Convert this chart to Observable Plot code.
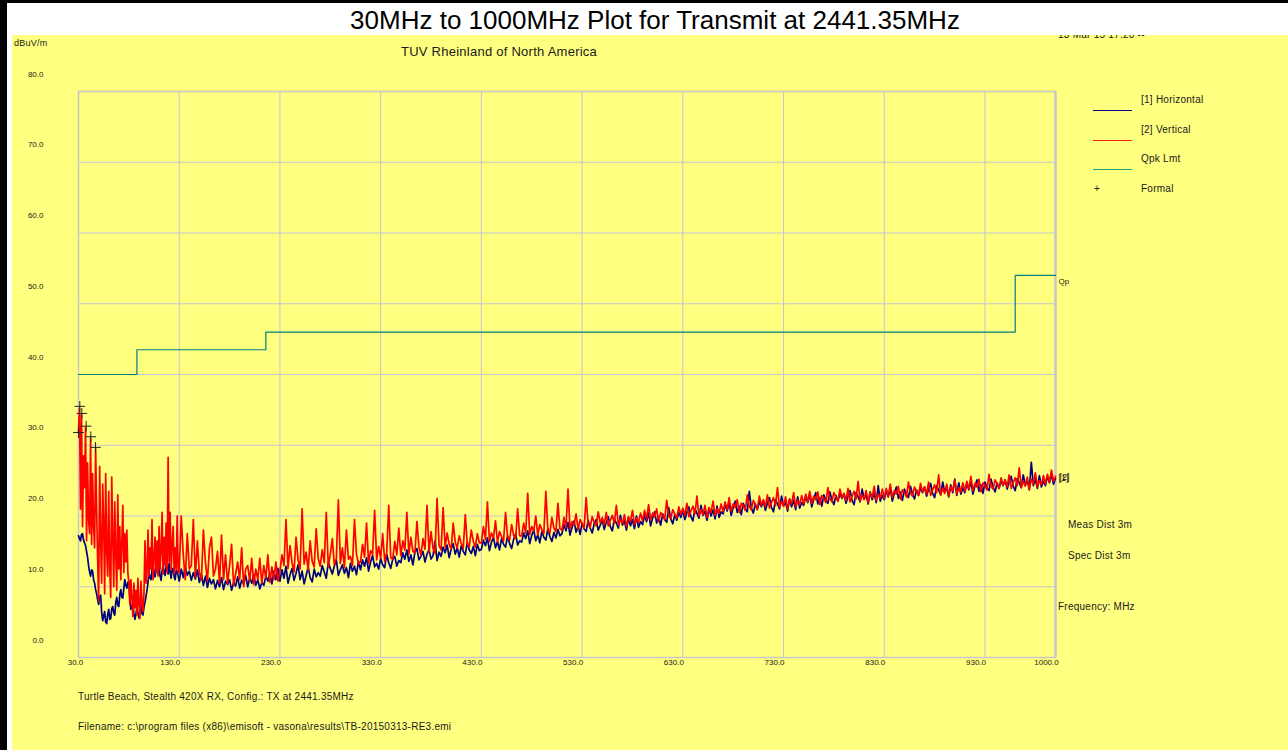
<!DOCTYPE html>
<html>
<head>
<meta charset="utf-8">
<script src="https://cdn.jsdelivr.net/npm/d3@7"></script>
<script src="https://cdn.jsdelivr.net/npm/@observablehq/plot@0.6"></script>
<style>
html, body { margin: 0; padding: 0; }
body { width: 1288px; height: 750px; position: relative; overflow: hidden; background: #ffffff;
       font-family: "Liberation Sans", Arial, sans-serif; color: #1a1a1a; }
#borderL { position: absolute; left: 0; top: 0; width: 7px; height: 750px; background: #000; z-index: 5; }
#borderT { position: absolute; left: 0; top: 0; width: 1288px; height: 3px; background: #000; z-index: 5; }
#title { position: absolute; left: 7px; top: 3px; width: 1266px; padding-left: 15px; height: 32px; background: #fff;
         text-align: center; font-size: 26px; line-height: 34px; z-index: 4; color: #000; }
#chart { position: absolute; left: 12px; top: 35px; }
.t { position: absolute; white-space: nowrap; transform: translateY(-50%); z-index: 2; font-size: 10px; letter-spacing: 0.25px; }
.leg { position: absolute; width: 39px; height: 0; z-index: 2; }
</style>
</head>
<body>
<div id="borderL"></div>
<div id="borderT"></div>
<div id="title">30MHz to 1000MHz Plot for Transmit at 2441.35MHz</div>
<div id="chart"></div>
<script>
// ---------------- data ----------------
const xTicks = [30, 130, 230, 330, 430, 530, 630, 730, 830, 930, 1000];
const yTicks = [0, 10, 20, 30, 40, 50, 60, 70, 80];

// sweep sampling: 30-129 MHz every 1 MHz, 130-1000 MHz every 2 MHz
const denseStart = 30, denseStep = 1, sweepStart = 130, sweepStep = 2;

// [1] Horizontal (dBuV/m)
const horizontalDense = [
  17.2,16.8,16.5,17.4,17.5,16.6,16.2,15.8,15.0,14.2,
  13.0,12.1,11.5,12.4,12.2,11.0,10.5,9.6,9.0,8.2,
  7.5,8.6,8.8,6.4,5.2,5.9,6.5,5.0,4.8,6.1,
  6.8,5.4,5.5,6.9,7.2,6.3,6.0,7.8,8.5,7.4,
  7.2,8.9,9.6,8.5,8.4,9.8,11.0,10.2,9.8,10.6,
  10.8,8.4,6.8,7.3,7.6,6.2,5.4,6.1,7.0,6.3,
  5.6,6.5,7.4,6.2,6.0,7.1,7.8,8.6,9.5,10.6,
  12.0,11.3,11.0,12.4,13.0,12.1,11.4,12.8,12.6,11.7,
  12.8,11.5,10.9,12.3,13.0,12.2,11.6,12.9,12.4,11.8,
  13.3,12.0,11.2,12.5,12.6,11.4,11.0,12.3,12.2,11.5
];
const horizontalSweep = [
  10.8,12.5,11.3,12.9,11.6,12.2,10.9,12.0,11.1,12.4,
  10.6,11.8,10.2,11.5,9.9,11.2,10.4,11.0,9.7,10.9,
  10.0,11.3,9.6,10.8,10.3,11.0,9.5,10.6,10.1,11.4,
  9.8,10.9,10.4,11.6,10.0,11.2,10.5,11.7,10.2,11.0,
  9.7,10.6,10.2,11.5,10.8,11.9,10.4,12.2,11.0,12.6,
  10.8,12.4,11.2,12.9,10.5,11.7,12.6,10.9,11.9,13.1,11.0,12.2,10.4,11.6,12.8,11.3,10.7,12.5,11.4,12.0,
  11.5,13.0,12.1,11.2,13.4,12.6,11.8,12.9,13.8,11.6,12.4,13.1,11.9,12.7,11.3,13.3,12.2,12.9,11.7,13.6,
  12.4,13.8,12.9,14.1,12.2,13.5,14.4,12.8,13.3,12.5,14.0,13.1,12.7,14.6,13.4,12.6,13.9,14.3,12.9,13.7,
  13.4,14.8,13.9,15.2,13.6,14.5,13.1,14.9,15.4,13.8,14.3,15.0,13.5,14.6,15.3,13.9,14.4,16.5,13.7,14.9,
  14.3,15.6,14.8,15.9,14.1,15.3,16.1,14.6,15.5,14.2,15.8,15.0,14.5,16.3,15.2,14.7,15.7,14.4,16.0,15.1,
  15.3,16.6,15.8,16.9,15.1,16.3,17.0,15.5,16.4,15.2,16.8,16.0,15.6,17.2,16.1,15.4,16.7,17.5,15.9,16.5,
  16.3,17.6,16.8,17.9,16.1,17.3,18.0,16.5,17.4,16.2,17.8,17.0,16.6,18.2,17.1,16.4,17.7,16.9,18.1,17.2,
  17.5,18.8,17.9,19.1,17.3,18.4,19.3,17.7,18.6,17.4,19.0,18.2,17.8,19.4,18.3,17.6,18.9,19.5,18.0,18.7,
  19.4,18.1,19.1,19.9,18.5,17.9,19.6,19.0,18.3,20.1,18.7,19.3,18.0,19.7,18.6,19.5,18.2,20.0,18.4,19.2,
  18.8,20.1,19.2,20.4,18.6,19.7,20.6,19.0,19.9,18.7,20.3,19.5,19.1,21.2,19.6,18.9,20.2,19.4,20.5,19.8,
  20.8,19.5,20.5,21.3,19.9,19.3,21.0,20.4,19.7,21.5,20.1,20.7,19.4,21.1,20.0,20.9,19.6,21.4,19.8,20.6,
  20.3,21.6,20.7,21.9,20.1,21.2,22.1,20.5,21.4,20.2,21.8,21.0,20.6,23.5,21.1,20.4,21.7,20.9,22.0,21.3,
  22.1,20.8,21.8,22.6,21.2,20.6,22.3,21.7,21.0,22.8,21.4,22.0,20.7,22.4,21.3,22.2,20.9,22.7,21.1,21.9,
  21.5,22.8,21.9,23.1,21.3,22.4,23.3,21.7,22.6,21.4,23.0,22.2,21.8,23.4,22.3,21.6,22.9,22.1,23.2,22.5,
  23.1,21.8,22.8,23.6,22.2,21.6,23.3,22.7,22.0,23.8,22.4,23.0,21.7,23.4,22.3,23.2,21.9,24.3,22.1,22.9,
  22.3,23.6,22.7,23.9,22.1,23.2,24.1,22.5,23.4,22.2,23.8,23.0,22.6,24.2,23.1,22.4,23.7,22.9,24.0,23.3,
  24.1,22.8,23.8,24.6,23.2,22.6,24.3,23.7,23.0,24.8,23.4,24.0,22.7,24.4,23.3,25.2,22.9,24.7,23.1,23.9,
  23.3,24.6,23.7,24.9,23.1,24.2,25.1,23.5,24.4,23.2,24.8,24.0,23.6,25.2,24.1,23.4,24.7,23.9,25.0,24.3,
  25.1,23.8,24.8,25.6,24.2,23.6,25.3,24.7,24.0,25.8,24.4,25.0,23.7,27.6,24.3,25.2,23.9,25.7,24.1,24.9,
  24.3,25.6,24.7,25.9,24.5,25.3
];

// [2] Vertical (dBuV/m)
const verticalDense = [
  31.8,35.2,21.0,34.3,18.5,28.5,24.0,32.5,16.5,27.5,
  19.5,17.5,31.0,16.0,26.0,18.5,15.5,29.5,21.0,14.0,
  8.0,27.0,16.5,10.5,24.5,19.0,9.0,26.0,15.0,11.5,
  23.5,12.5,8.5,25.5,17.0,10.0,22.0,14.5,9.5,23.0,
  12.5,18.5,11.0,16.0,21.5,12.0,17.5,13.5,18.0,12.0,
  10.5,7.5,11.0,8.5,5.8,10.5,7.0,9.5,6.0,11.2,
  7.5,5.5,10.8,8.0,6.5,9.0,16.5,10.5,12.0,18.0,
  11.5,15.5,12.5,19.5,11.0,14.0,17.0,12.0,16.5,11.5,
  18.5,12.5,15.0,20.5,11.8,17.0,13.0,19.0,12.0,28.3,
  13.5,20.5,12.5,16.0,18.5,11.8,15.5,12.5,20.0,12.0
];
const verticalSweep = [
  12.0,20.0,14.5,11.0,17.5,12.5,13.0,19.5,11.3,16.5,
  12.0,11.0,18.0,13.5,10.8,15.5,17.0,11.5,12.5,15.0,
  10.5,17.3,11.0,14.5,10.5,13.0,16.0,10.2,11.8,13.5,
  11.0,15.5,10.0,12.5,13.0,10.8,14.0,10.3,12.5,11.0,
  14.0,10.5,13.0,11.2,14.5,10.6,12.8,11.0,13.5,10.8,
  12.2,14.5,13.0,19.5,12.6,15.8,13.4,12.1,17.0,13.8,12.5,21.0,13.2,14.9,12.3,16.5,13.6,12.8,18.2,14.0,
  12.9,15.2,13.4,20.5,12.8,14.6,16.8,13.1,14.0,22.3,13.3,15.5,12.7,18.0,13.9,14.3,13.0,19.5,14.6,13.2,
  13.5,16.0,14.2,19.0,13.3,15.1,14.6,20.8,13.8,15.7,14.0,17.5,13.6,14.8,21.5,14.1,13.9,16.4,14.5,18.3,
  14.4,16.5,15.2,20.5,14.6,17.0,15.0,14.8,19.2,15.6,14.5,16.8,15.3,21.5,14.9,17.8,15.4,14.7,22.5,15.8,
  15.2,21.2,15.6,17.6,16.0,15.3,19.0,16.3,15.5,17.2,16.1,15.4,20.2,16.0,15.7,18.0,16.4,15.6,17.5,16.2,
  16.2,18.5,16.7,22.0,16.4,17.6,16.9,19.3,16.3,17.8,17.1,16.5,20.5,17.0,16.6,18.8,17.3,16.8,21.0,17.2,
  17.2,19.0,17.6,23.2,17.4,18.5,17.9,20.0,17.3,18.8,18.1,17.5,23.5,18.0,17.6,19.8,18.3,17.8,21.8,18.2,
  18.0,19.8,18.4,23.8,18.2,19.2,18.7,20.3,18.1,19.5,18.9,18.3,22.6,18.8,18.4,19.9,19.1,18.6,20.6,19.0,
  19.8,18.8,20.5,18.6,19.4,20.1,19.0,21.5,18.7,19.6,18.9,20.2,18.5,19.9,19.2,20.8,18.8,19.7,19.1,20.4,
  19.3,20.8,19.6,21.6,19.4,20.4,19.9,21.0,19.2,20.5,20.1,19.5,22.2,20.0,19.6,20.9,20.3,19.7,21.3,20.2,
  21.1,20.1,21.8,19.9,20.7,21.4,20.3,22.8,20.0,20.9,20.2,21.5,19.8,21.2,20.5,22.1,20.1,21.0,20.4,21.7,
  20.6,22.0,20.9,22.6,20.7,21.7,21.2,22.3,20.5,21.8,21.4,20.8,23.0,21.3,20.9,22.2,21.6,21.0,22.8,21.5,
  22.3,21.3,23.0,21.1,21.9,22.6,21.5,24.0,21.2,22.1,21.4,22.7,21.0,22.4,21.7,23.3,21.3,22.2,21.6,22.9,
  21.7,23.1,22.0,23.5,21.8,22.8,22.3,23.4,21.6,22.9,22.5,21.9,24.0,22.4,22.0,23.3,22.7,22.1,23.8,22.6,
  23.2,22.2,23.9,22.0,22.8,23.5,22.4,24.9,22.1,23.0,22.3,23.6,21.9,23.3,22.6,24.2,22.2,23.1,22.5,23.8,
  22.5,23.9,22.8,24.5,22.6,23.6,23.1,24.2,22.4,23.7,23.3,22.7,24.8,23.2,22.8,24.1,23.5,22.9,24.6,23.4,
  24.1,23.1,24.8,22.9,23.7,24.4,23.3,25.8,23.0,23.9,23.2,24.5,22.8,24.2,23.5,25.1,23.1,24.0,23.4,24.7,
  23.5,24.9,23.8,25.6,23.6,24.6,24.1,25.2,23.4,24.7,24.3,23.7,25.9,24.2,23.8,25.1,24.5,23.9,25.4,24.4,
  25.1,24.1,25.8,23.9,24.7,25.4,24.3,26.8,24.0,24.9,24.2,25.5,23.8,25.2,24.5,26.1,24.1,25.0,24.4,25.7,
  24.5,25.9,24.8,26.5,24.9,25.6
];

// Qpk limit (3 m)
const limitFreq = [30, 88, 216, 960, 1000];
const limitLevel = [40, 43.5, 46, 54, 54];

// Formal (final) measurement points
const formalFreq = [30, 31.3, 33.3, 37.6, 42.2, 46.9];
const formalLevel = [31.8, 35.5, 34.5, 32.7, 31.2, 29.7];

// ---------------- build tables ----------------
function sweep(dense, rest) {
  return [
    ...dense.map((v, i) => ({f: denseStart + i * denseStep, v})),
    ...rest.map((v, i) => ({f: sweepStart + i * sweepStep, v}))
  ];
}
const horizontal = sweep(horizontalDense, horizontalSweep);
const vertical = sweep(verticalDense, verticalSweep);
const limit = limitFreq.map((f, i) => ({f, v: limitLevel[i]}));
const formal = formalFreq.map((f, i) => ({f, v: formalLevel[i]}));
const fmt = d => d.toFixed(1);

const chart = Plot.plot({
  width: 1276,
  height: 715,
  marginLeft: 66,
  marginRight: 233,
  marginTop: 56,
  marginBottom: 93,
  style: {background: "#ffff80", fontFamily: "'Liberation Sans', Arial, sans-serif", fontSize: "8px", color: "#1a1a1a", overflow: "visible"},
  x: {domain: [30, 1000], label: null},
  y: {domain: [0, 80], label: null},
  marks: [
    Plot.gridX(xTicks, {stroke: "#c4c4d6", strokeOpacity: 1, strokeWidth: 1}),
    Plot.gridY(yTicks, {stroke: "#c4c4d6", strokeOpacity: 1, strokeWidth: 1}),
    Plot.frame({stroke: "#c8c8c8", strokeWidth: 1.5}),
    Plot.ruleX([1000], {stroke: "#c8c8c8", strokeWidth: 2.5}),
    Plot.line(limit, {x: "f", y: "v", curve: "step-after", stroke: "#008080", strokeWidth: 1.2}),
    Plot.line(horizontal, {x: "f", y: "v", stroke: "#000080", strokeWidth: 1.7}),
    Plot.line(vertical, {x: "f", y: "v", stroke: "#ff0000", strokeWidth: 1.7}),
    Plot.dot(formal, {x: "f", y: "v", symbol: "plus", r: 3.5, stroke: "#222", strokeWidth: 1}),
    Plot.axisY(yTicks, {tickSize: 0, tickPadding: 35, dy: -17.5, tickFormat: fmt, fontSize: 8}),
    Plot.axisX(xTicks.slice(1), {tickSize: 0, tickPadding: 2, dx: -9, tickFormat: fmt, fontSize: 8}),
    Plot.axisX(xTicks.slice(0, 1), {tickSize: 0, tickPadding: 2, dx: -3, tickFormat: fmt, fontSize: 8}),
    Plot.text(limit.slice(-1), {x: "f", y: "v", text: () => "Qp", dx: 3, dy: 6, textAnchor: "start", fontSize: 8}),
    Plot.text(vertical.slice(-1), {x: "f", y: "v", text: () => "[1]", dx: 3, dy: 2, textAnchor: "start", fontSize: 9}),
    Plot.text(vertical.slice(-1), {x: "f", y: "v", text: () => "[2]", dx: 4, dy: 1, textAnchor: "start", fontSize: 9})
  ]
});
document.getElementById("chart").appendChild(chart);

// ---------------- annotations ----------------
const notes = [
  {text: "dBuV/m", x: 14, y: 43, size: 9},
  {text: "TUV Rheinland of North America", x: 401, y: 51, size: 13},
  {text: "13 Mar 15 17:20 --", x: 1058, y: 34, size: 10},
  {text: "[1] Horizontal", x: 1141, y: 99, size: 10},
  {text: "[2] Vertical", x: 1141, y: 129, size: 10},
  {text: "Qpk Lmt", x: 1141, y: 158, size: 10},
  {text: "Formal", x: 1141, y: 188, size: 10},
  {text: "+", x: 1094, y: 188, size: 10},
  {text: "Meas Dist 3m", x: 1068, y: 524, size: 10},
  {text: "Spec Dist 3m", x: 1068, y: 555, size: 10},
  {text: "Frequency: MHz", x: 1058, y: 606, size: 10},
  {text: "Turtle Beach, Stealth 420X RX, Config.: TX at 2441.35MHz", x: 78, y: 696, size: 10},
  {text: "Filename: c:\\program files (x86)\\emisoft - vasona\\results\\TB-20150313-RE3.emi", x: 78, y: 726, size: 10}
];
for (const n of notes) {
  const d = document.createElement("div");
  d.className = "t";
  d.textContent = n.text;
  d.style.left = n.x + "px";
  d.style.top = n.y + "px";
  d.style.fontSize = n.size + "px";
  document.body.appendChild(d);
}
const legendLines = [
  {color: "#000080", y: 110},
  {color: "#ff2000", y: 140},
  {color: "#20a080", y: 169}
];
for (const l of legendLines) {
  const d = document.createElement("div");
  d.className = "leg";
  d.style.left = "1093px";
  d.style.top = l.y + "px";
  d.style.borderTop = "1.5px solid " + l.color;
  document.body.appendChild(d);
}
</script>
</body>
</html>
